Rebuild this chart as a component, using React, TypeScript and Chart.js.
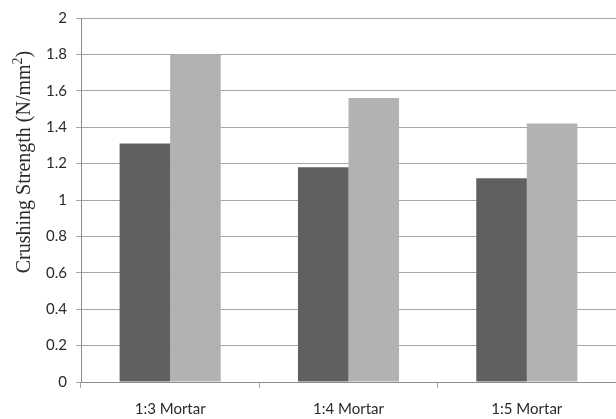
import React, { useEffect, useRef } from "react";
import { Chart, registerables } from "chart.js";

Chart.register(...registerables);

const categories = ["1:3 Mortar", "1:4 Mortar", "1:5 Mortar"];
const seriesA = [1.31, 1.18, 1.12];
const seriesB = [1.8, 1.56, 1.42];
const yTickValues = [0, 0.2, 0.4, 0.6, 0.8, 1, 1.2, 1.4, 1.6, 1.8, 2];
const yTickLabels = ["0", "0.2", "0.4", "0.6", "0.8", "1", "1.2", "1.4", "1.6", "1.8", "2"];
const titleMain = "Crushing Strength (N/mm";
const titleSup = "2";
const titleTail = ")";

const titlePlugin = {
  id: "yTitle",
  afterDraw(chart: any) {
    const ctx = chart.ctx as CanvasRenderingContext2D;
    ctx.save();
    ctx.fillStyle = "#2a2a2a";
    ctx.textBaseline = "alphabetic";
    ctx.textAlign = "left";
    const mainFont = "20px 'Liberation Serif', 'Times New Roman', serif";
    const supFont = "14px 'Liberation Serif', 'Times New Roman', serif";
    ctx.font = mainFont;
    const w1 = ctx.measureText(titleMain).width;
    const w3 = ctx.measureText(titleTail).width;
    ctx.font = supFont;
    const w2 = ctx.measureText(titleSup).width;
    const total = w1 + w2 + w3;
    ctx.translate(30, 162);
    ctx.rotate(-Math.PI / 2);
    const start = -total / 2;
    ctx.font = mainFont;
    ctx.fillText(titleMain, start, 0);
    ctx.font = supFont;
    ctx.fillText(titleSup, start + w1, -8);
    ctx.font = mainFont;
    ctx.fillText(titleTail, start + w1 + w2, 0);
    ctx.restore();
  },
};

export default function App() {
  const ref = useRef<HTMLCanvasElement | null>(null);
  useEffect(() => {
    if (!ref.current) return;
    const chart = new Chart(ref.current, {
      type: "bar",
      data: {
        labels: categories,
        datasets: [
          {
            data: seriesA,
            backgroundColor: "#606060",
            borderWidth: 0,
            categoryPercentage: 0.567,
            barPercentage: 1,
          },
          {
            data: seriesB,
            backgroundColor: "#b2b2b2",
            borderWidth: 0,
            categoryPercentage: 0.567,
            barPercentage: 1,
          },
        ],
      },
      options: {
        animation: false,
        responsive: false,
        maintainAspectRatio: false,
        layout: { padding: { top: 18, right: 0, left: 0, bottom: 0 } },
        plugins: { legend: { display: false }, tooltip: { enabled: false } },
        scales: {
          x: {
            afterFit(scale: any) {
              scale.height = 37;
            },
            grid: {
              offset: true,
              drawOnChartArea: false,
              drawTicks: true,
              tickLength: 6,
              color: "#a6a6a6",
            },
            border: { display: true, color: "#8c8c8c" },
            ticks: {
              padding: 12,
              color: "#2a2a2a",
              font: { family: "Lato", size: 15 },
              maxRotation: 0,
            },
          },
          y: {
            min: 0,
            max: 2,
            afterFit(scale: any) {
              scale.width = 81;
            },
            afterBuildTicks(scale: any) {
              scale.ticks = yTickValues.map((v) => ({ value: v }));
            },
            grid: {
              color: "#a6a6a6",
              tickLength: 5,
              drawTicks: true,
            },
            border: { display: true, color: "#8c8c8c" },
            ticks: {
              padding: 9,
              color: "#2a2a2a",
              font: { family: "Lato", size: 15 },
              callback: (v: any) => {
                const i = yTickValues.findIndex((t) => Math.abs(t - Number(v)) < 1e-6);
                return i >= 0 ? yTickLabels[i] : "";
              },
            },
          },
        },
      },
      plugins: [titlePlugin],
    });
    return () => chart.destroy();
  }, []);
  return (
    <div style={{ position: "fixed", left: 0, top: 0, width: 616, height: 419, background: "#fff" }}>
      <canvas ref={ref} width={616} height={419} style={{ width: 616, height: 419, display: "block" }} />
    </div>
  );
}
